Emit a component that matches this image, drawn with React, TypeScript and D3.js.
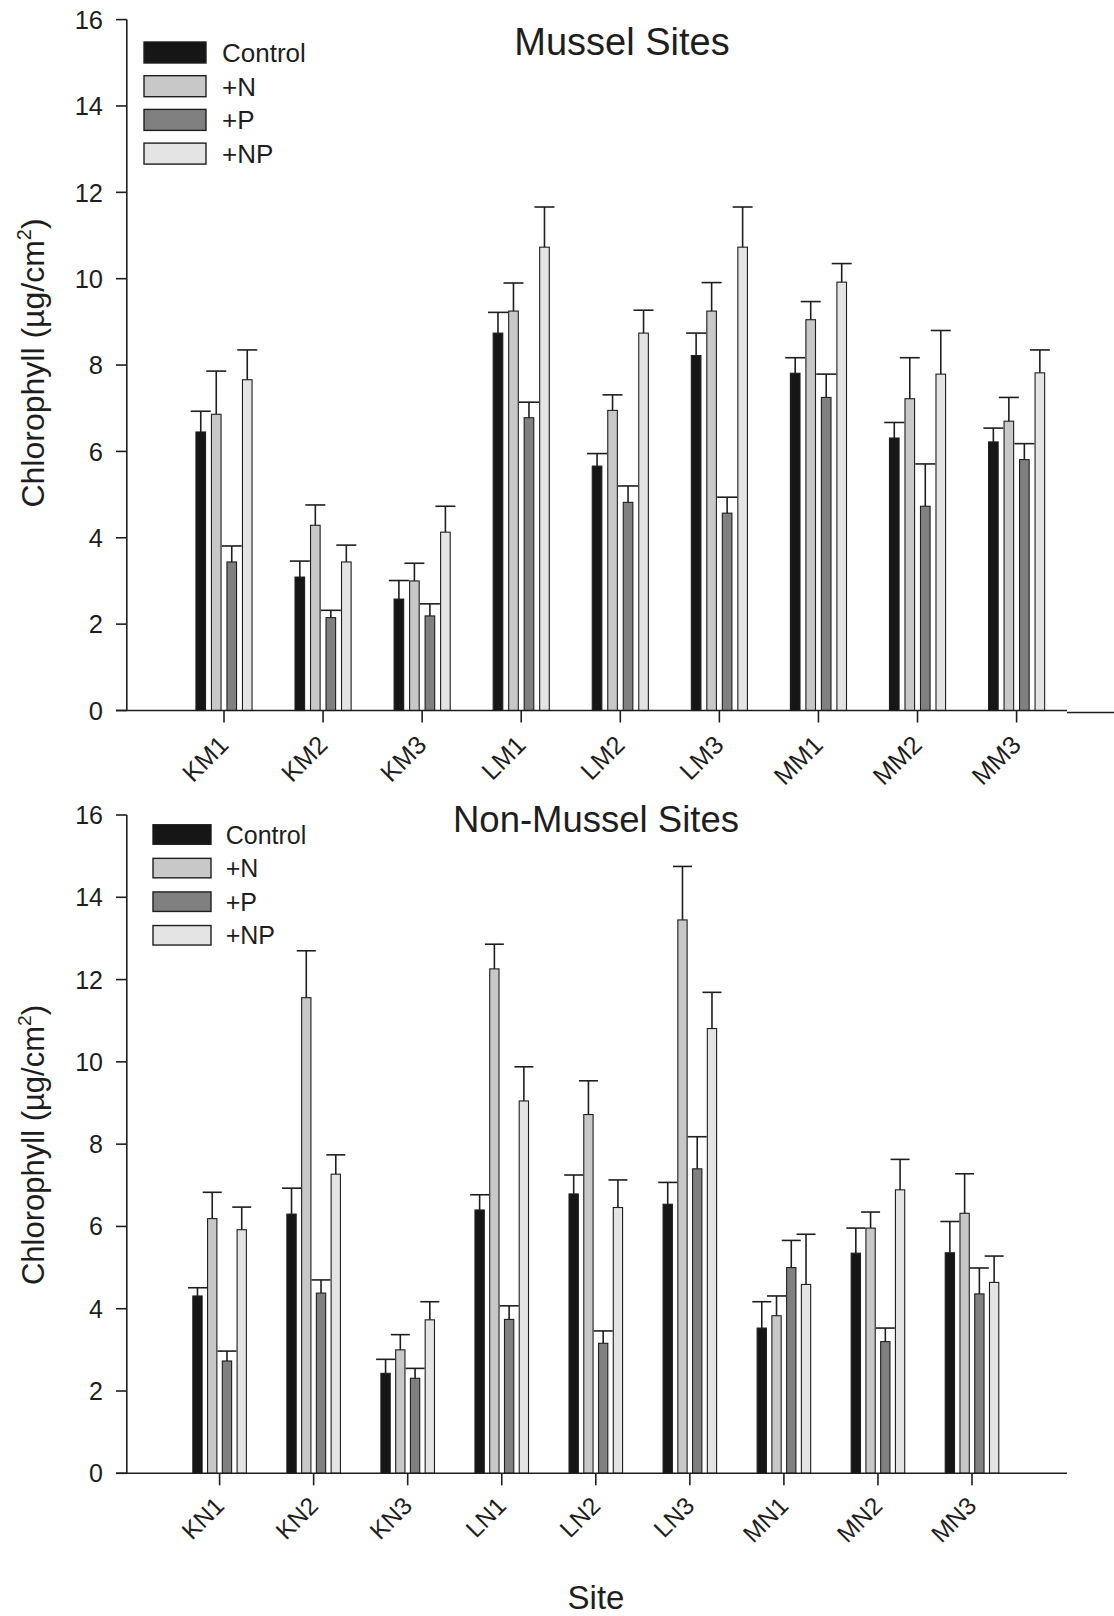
import React from "react";
import * as d3 from "d3";

const treatments = ["Control", "+N", "+P", "+NP"];
const fills = ["#161616", "#c8c8c8", "#808080", "#e4e4e4"];

const topSites = ["KM1", "KM2", "KM3", "LM1", "LM2", "LM3", "MM1", "MM2", "MM3"];
const topControl = [6.45, 3.09, 2.58, 8.74, 5.66, 8.22, 7.81, 6.31, 6.22];
const topControlErr = [0.48, 0.37, 0.43, 0.48, 0.29, 0.52, 0.36, 0.36, 0.32];
const topN = [6.86, 4.29, 3.0, 9.25, 6.95, 9.25, 9.05, 7.22, 6.7];
const topNErr = [1.0, 0.47, 0.41, 0.65, 0.36, 0.66, 0.42, 0.95, 0.55];
const topP = [3.44, 2.15, 2.19, 6.78, 4.82, 4.57, 7.25, 4.73, 5.81];
const topPErr = [0.37, 0.17, 0.28, 0.36, 0.38, 0.37, 0.54, 0.98, 0.37];
const topNP = [7.66, 3.44, 4.13, 10.73, 8.74, 10.73, 9.92, 7.79, 7.82];
const topNPErr = [0.69, 0.39, 0.6, 0.93, 0.53, 0.93, 0.43, 1.01, 0.53];

const botSites = ["KN1", "KN2", "KN3", "LN1", "LN2", "LN3", "MN1", "MN2", "MN3"];
const botControl = [4.31, 6.3, 2.43, 6.4, 6.79, 6.54, 3.53, 5.35, 5.36];
const botControlErr = [0.2, 0.63, 0.34, 0.37, 0.46, 0.53, 0.64, 0.61, 0.76];
const botN = [6.19, 11.56, 3.0, 12.26, 8.72, 13.45, 3.83, 5.96, 6.32];
const botNErr = [0.64, 1.14, 0.37, 0.6, 0.82, 1.3, 0.48, 0.39, 0.96];
const botP = [2.73, 4.38, 2.31, 3.74, 3.16, 7.4, 5.0, 3.2, 4.36];
const botPErr = [0.24, 0.32, 0.24, 0.33, 0.3, 0.78, 0.66, 0.33, 0.63];
const botNP = [5.92, 7.27, 3.73, 9.05, 6.46, 10.81, 4.59, 6.89, 4.64];
const botNPErr = [0.55, 0.47, 0.44, 0.83, 0.67, 0.88, 1.22, 0.74, 0.64];

const yTicks = [0, 2, 4, 6, 8, 10, 12, 14, 16];

const FONT = "'Liberation Sans', Arial, Helvetica, sans-serif";
const INK = "#1e1e1e";

type Cfg = {
  y0: number; y16: number; xFirst: number; xLast: number; pitch: number; barW: number; capW: number;
  axisX: number; axisLeft: number; axisRight: number; extraAxis: boolean;
  legX: number; legW: number; legH: number; legY: number; legStep: number; legTextX: number;
  titleX: number; titleY: number; titleSize: number; yTitleX: number; yTitleY: number; yTitleSize: number;
  tickFont: number; labelFont: number; legFont: number; labelDy: number;
};

function Panel({ cfg, sites, values, errors, title }: { cfg: Cfg; sites: string[]; values: number[][]; errors: number[][]; title: string }) {
  const y = d3.scaleLinear().domain([0, 16]).range([cfg.y0, cfg.y16]);
  const x = d3.scalePoint<string>().domain(sites).range([cfg.xFirst, cfg.xLast]);
  const offs = [-1.5, -0.5, 0.5, 1.5];
  return (
    <g fontFamily={FONT}>
      {treatments.map((t, ti) =>
        sites.map((s, si) => {
          const cx = (x(s) as number) + offs[ti] * cfg.pitch;
          const v = values[ti][si];
          return (
            <rect key={`b${ti}-${si}`} x={cx - cfg.barW / 2} y={y(v)} width={cfg.barW} height={y(0) - y(v)}
              fill={fills[ti]} stroke={INK} strokeWidth={1.1} />
          );
        })
      )}
      {treatments.map((t, ti) =>
        sites.map((s, si) => {
          const cx = (x(s) as number) + offs[ti] * cfg.pitch;
          const v = values[ti][si];
          const e = errors[ti][si];
          return (
            <g key={`e${ti}-${si}`} stroke={INK} strokeWidth={1.6}>
              <line x1={cx} x2={cx} y1={y(v)} y2={y(v + e)} />
              <line x1={cx - cfg.capW / 2} x2={cx + cfg.capW / 2} y1={y(v + e)} y2={y(v + e)} />
            </g>
          );
        })
      )}
      <line x1={cfg.axisX} x2={cfg.axisX} y1={y(16)} y2={y(0)} stroke={INK} strokeWidth={1.6} />
      {yTicks.map((t) => (
        <g key={`yt${t}`}>
          <line x1={cfg.axisLeft} x2={cfg.axisX} y1={y(t)} y2={y(t)} stroke={INK} strokeWidth={1.6} />
          <text x={cfg.axisLeft - 13} y={y(t)} dy="0.36em" textAnchor="end" fontSize={cfg.tickFont} fill={INK}>{t}</text>
        </g>
      ))}
      <line x1={cfg.axisLeft} x2={cfg.axisRight} y1={y(0)} y2={y(0)} stroke={INK} strokeWidth={1.6} />
      {cfg.extraAxis && (
        <line x1={cfg.axisRight} x2={1114} y1={y(0) + 2} y2={y(0) + 2} stroke={INK} strokeWidth={1.6} />
      )}
      {sites.map((s) => (
        <g key={`xt${s}`}>
          <line x1={x(s)} x2={x(s)} y1={y(0)} y2={y(0) + 12} stroke={INK} strokeWidth={1.6} />
          <text transform={`translate(${(x(s) as number) + 6},${y(0) + cfg.labelDy}) rotate(-45)`} textAnchor="end"
            fontSize={cfg.labelFont} fill={INK}>{s}</text>
        </g>
      ))}
      {treatments.map((t, ti) => (
        <g key={`lg${t}`}>
          <rect x={cfg.legX} y={cfg.legY + ti * cfg.legStep - cfg.legH / 2} width={cfg.legW} height={cfg.legH}
            fill={fills[ti]} stroke={INK} strokeWidth={1.4} />
          <text x={cfg.legTextX} y={cfg.legY + ti * cfg.legStep} dy="0.36em" fontSize={cfg.legFont} fill={INK}>{t}</text>
        </g>
      ))}
      <text x={cfg.titleX} y={cfg.titleY} textAnchor="middle" fontSize={cfg.titleSize} fill={INK}>{title}</text>
      <text transform={`translate(${cfg.yTitleX},${cfg.yTitleY}) rotate(-90)`} textAnchor="middle" fontSize={cfg.yTitleSize} fill={INK}>
        Chlorophyll (µg/cm<tspan dy={-cfg.yTitleSize * 0.42} fontSize={cfg.yTitleSize * 0.62}>2</tspan>
        <tspan dy={cfg.yTitleSize * 0.42}>)</tspan>
      </text>
    </g>
  );
}

const topCfg: Cfg = {
  y0: 710.5, y16: 19.6, xFirst: 224, xLast: 1016.6, pitch: 15.5, barW: 9.6, capW: 20,
  axisX: 126.8, axisLeft: 116, axisRight: 1067, extraAxis: true,
  legX: 144, legW: 62, legH: 21, legY: 52.5, legStep: 33.7, legTextX: 222,
  titleX: 622, titleY: 55, titleSize: 38, yTitleX: 44, yTitleY: 363, yTitleSize: 32,
  tickFont: 25.5, labelFont: 25.5, legFont: 26, labelDy: 36,
};

const botCfg: Cfg = {
  y0: 1473.3, y16: 815, xFirst: 219.6, xLast: 972, pitch: 14.75, barW: 9.3, capW: 19,
  axisX: 126.8, axisLeft: 116, axisRight: 1067, extraAxis: false,
  legX: 153, legW: 58, legH: 19.5, legY: 834.5, legStep: 33.6, legTextX: 225.7,
  titleX: 596, titleY: 832, titleSize: 36.5, yTitleX: 44, yTitleY: 1145, yTitleSize: 31,
  tickFont: 25, labelFont: 24.5, legFont: 25, labelDy: 34,
};

export default function App() {
  return (
    <div style={{ position: "absolute", left: 0, top: 0 }}>
      <svg width={1114} height={1616} viewBox="0 0 1114 1616" style={{ display: "block", background: "#fff" }}>
        <rect x={0} y={0} width={1114} height={1616} fill="#fff" />
        <Panel cfg={topCfg} sites={topSites} title="Mussel Sites"
          values={[topControl, topN, topP, topNP]} errors={[topControlErr, topNErr, topPErr, topNPErr]} />
        <Panel cfg={botCfg} sites={botSites} title="Non-Mussel Sites"
          values={[botControl, botN, botP, botNP]} errors={[botControlErr, botNErr, botPErr, botNPErr]} />
        <text x={596} y={1609} textAnchor="middle" fontSize={33} fontFamily={FONT} fill={INK}>Site</text>
      </svg>
    </div>
  );
}
